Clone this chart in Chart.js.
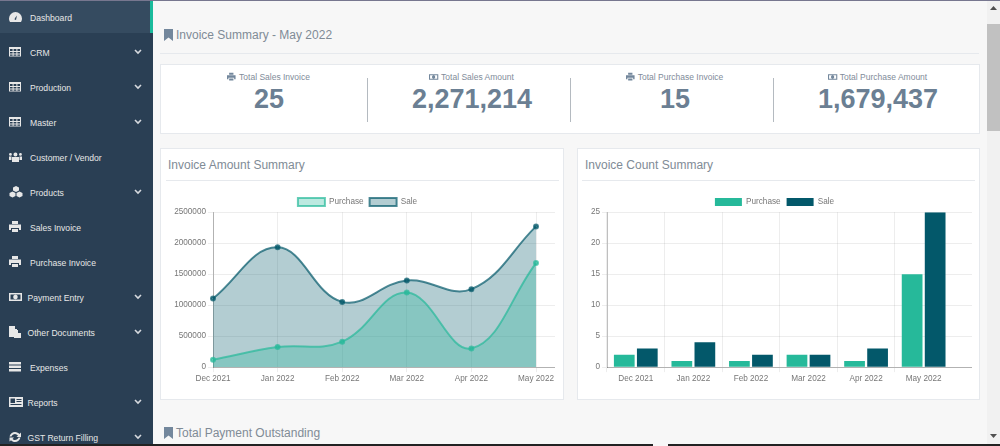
<!DOCTYPE html>
<html>
<head>
<meta charset="utf-8">
<title>Dashboard</title>
<script src="https://cdn.jsdelivr.net/npm/chart.js@4/dist/chart.umd.min.js"></script>
<style>
html, body { margin: 0; padding: 0; width: 1000px; height: 446px; overflow: hidden; background: #f7f7f7; font-family: "Liberation Sans", Arial, sans-serif; color: #808b96; }
div, span, svg, canvas { position: absolute; }
#side { left: 0; top: 0; width: 153px; height: 446px; background: #2a3f54; }
#active { left: 0; top: 0; width: 150px; height: 33px; background: #354b60; }
#strip { left: 150px; top: 0; width: 3px; height: 33px; background: #1abb9c; }
.mi { color: #e7e7e7; font-size: 8.6px; line-height: 12px; white-space: nowrap; }
.h { font-size: 12px; line-height: 14px; white-space: nowrap; }
.card { background: #fff; border: 1px solid #e6e9ed; box-sizing: border-box; }
.rule { background: #e6e9ed; height: 1px; }
.lab { font-size: 8.5px; line-height: 10px; text-align: center; width: 200px; white-space: nowrap; color: #7f8c9a; }
.num { font-size: 27px; line-height: 30px; font-weight: bold; text-align: center; width: 200px; color: #6b7f93; }
.div { width: 1px; top: 78px; height: 44px; background: #b4bac0; }
</style>
</head>
<body>
<div style="left:0;top:0;width:1000px;height:1px;background:#77778f;z-index:5"></div>
<div id="side"><div id="active"></div><div id="strip"></div></div>

<span class="h" style="left:176px;top:28px">Invoice Summary - May 2022</span>
<svg style="left:164px;top:29px" width="9" height="12" viewBox="0 0 9 12"><path d="M0 0H9V12L4.5 8.5 0 12Z" fill="#73879c"/></svg>
<div class="rule" style="left:160px;top:53px;width:819px"></div>

<div class="card" style="left:160px;top:64px;width:820px;height:70px"></div>
<div class="div" style="left:367px"></div>
<div class="div" style="left:570px"></div>
<div class="div" style="left:773px"></div>
<div id="stats"></div>

<div class="card" style="left:160px;top:148px;width:404px;height:252px"></div>
<span class="h" style="left:168px;top:158px">Invoice Amount Summary</span>
<div class="rule" style="left:166px;top:180px;width:393px"></div>
<canvas id="amount" style="left:160px;top:192px;width:395px;height:194px" width="395" height="194"></canvas>

<div class="card" style="left:577px;top:148px;width:403px;height:252px"></div>
<span class="h" style="left:585px;top:158px">Invoice Count Summary</span>
<div class="rule" style="left:582px;top:180px;width:393px"></div>
<canvas id="count" style="left:577px;top:192px;width:395px;height:194px" width="395" height="194"></canvas>

<span class="h" style="left:176px;top:426px">Total Payment Outstanding</span>
<svg style="left:164px;top:427px" width="9" height="12" viewBox="0 0 9 12"><path d="M0 0H9V12L4.5 8.5 0 12Z" fill="#73879c"/></svg>

<div style="left:987px;top:0;width:13px;height:446px;background:#f1f1f1"></div>
<div style="left:987px;top:24px;width:13px;height:107px;background:#c1c1c1"></div>
<svg style="left:990px;top:6px" width="7" height="4"><path d="M0 4L3.5 0 7 4Z" fill="#505050"/></svg>
<svg style="left:990px;top:434px" width="7" height="4"><path d="M0 0L3.5 4 7 0Z" fill="#505050"/></svg>
<div style="left:0;top:444px;width:653px;height:2px;background:#222"></div>
<div style="left:668px;top:444px;width:332px;height:2px;background:#222"></div>

<script>
const months = ['Dec 2021', 'Jan 2022', 'Feb 2022', 'Mar 2022', 'Apr 2022', 'May 2022'];
const purchaseAmount = [120000, 324000, 411000, 1204000, 303000, 1679437];
const saleAmount = [1107000, 1933000, 1053000, 1399000, 1258000, 2271214];
const purchaseCount = [2, 1, 1, 2, 1, 15];
const saleCount = [3, 4, 2, 2, 3, 25];

const statLabels = ['Total Sales Invoice', 'Total Sales Amount', 'Total Purchase Invoice', 'Total Purchase Amount'];
const statValues = ['25', '2,271,214', '15', '1,679,437'];
const statIcons = ['print', 'money', 'print', 'money'];
const statCenters = [269, 472, 675, 878];

const menuLabels = ['Dashboard', 'CRM', 'Production', 'Master', 'Customer / Vendor', 'Products', 'Sales Invoice', 'Purchase Invoice', 'Payment Entry', 'Other Documents', 'Expenses', 'Reports', 'GST Return Filling'];
const menuIcons = ['gauge', 'table', 'table', 'table', 'users', 'cubes', 'print', 'print', 'money', 'files', 'list', 'news', 'sync'];
const menuChevron = [0, 1, 1, 1, 0, 1, 0, 0, 1, 1, 0, 1, 1];
const menuLeft = [30, 30, 30, 30, 30, 30, 30, 30, 27.5, 27.5, 30, 27.5, 27.5];

// rough stand-ins for the font awesome glyphs
const glyphs = {
    print: '<path d="M3 0H9V3H3ZM0 3.5H12V9H10V7H2V9H0ZM3 8H9V11H3Z"/>',
    money: '<path fill-rule="evenodd" d="M0 2H13V10H0ZM1.5 3.5V8.5H11.5V3.5ZM6.5 3.7A2.3 2.3 0 1 1 6.4 8.3 2.3 2.3 0 1 1 6.5 3.7Z"/>',
    table: '<path fill-rule="evenodd" d="M0 1H12V10.5H0ZM1 3V5H3.6V3ZM4.6 3V5H7.4V3ZM8.4 3V5H11V3ZM1 6V7.6H3.6V6ZM4.6 6V7.6H7.4V6ZM8.4 6V7.6H11V6ZM1 8.4V9.7H3.6V8.4ZM4.6 8.4V9.7H7.4V8.4ZM8.4 8.4V9.7H11V8.4Z"/>',
    gauge: '<path fill-rule="evenodd" d="M6.5 1A6.5 6.5 0 0 1 13 7.5C13 9 12.5 10 12 11H1C.5 10 0 9 0 7.5A6.5 6.5 0 0 1 6.5 1ZM6 7L5.5 8.5 7 9 8 4.5Z"/>',
    users: '<path d="M6.5 1.5A2 2 0 1 1 6.4 5.5 2 2 0 1 1 6.5 1.5ZM3 6H10V11H3ZM1.5 2A1.4 1.4 0 1 1 1.4 4.8 1.4 1.4 0 1 1 1.5 2ZM11.5 2A1.4 1.4 0 1 1 11.4 4.8 1.4 1.4 0 1 1 11.5 2ZM0 5.5H2.5V9H0ZM10.5 5.5H13V9H10.5Z"/>',
    cubes: '<path d="M7 0L10 1.5V4.5L7 6 4 4.5V1.5ZM3.5 5.5L6.5 7V10L3.5 11.5 .5 10V7ZM10.5 5.5L13.5 7V10L10.5 11.5 7.5 10V7Z"/>',
    files: '<path d="M0 0H6V3H8V11H0ZM5 4H9V7H12V12H5Z"/>',
    list: '<path d="M0 1H12V3.5H0ZM0 4.5H12V7H0ZM0 8H12V10.5H0Z"/>',
    news: '<path fill-rule="evenodd" d="M0 1H14V11H0ZM1.5 2.5V7H6V2.5ZM7.5 3V4H12.5V3ZM7.5 5V6H12.5V5ZM1.5 8V9H12.5V8Z"/>',
    sync: '<path d="M6 1C8 1 9.5 2 10.5 3L12 1.5V6H7.5L9 4.5C8 3.5 7 3 6 3 4.5 3 3 4 2.5 5.5H.5C1 3 3.5 1 6 1ZM.5 6.5H5L3.5 8C4 8.5 5 9 6 9 7.5 9 9 8 9.5 6.5H11.5C11 9 8.5 11 6 11 4.5 11 3 10.2 2 9.2L.5 10.5Z"/>'
};

let icon = (name, x, y, size, colour) =>
    '<svg style="left:' + x + 'px;top:' + y + 'px" width="' + size + '" height="' + size + '" viewBox="0 0 14 12" fill="' + colour + '">' + glyphs[name] + '</svg>';

let side = document.getElementById('side');
menuLabels.forEach((label, i) => {
    let cy = 18 + i * 35;
    let html = icon(menuIcons[i], 9, cy - 8, 14, '#e7e7e7');
    html += '<span class="mi" style="left:' + menuLeft[i] + 'px;top:' + (cy - 6) + 'px">' + label + '</span>';
    if (menuChevron[i]) {
        html += '<svg style="left:134px;top:' + (cy - 4) + 'px" width="8" height="6"><path d="M1 1L4 4 7 1" fill="none" stroke="#d5d9de" stroke-width="1.6"/></svg>';
    }
    side.insertAdjacentHTML('beforeend', html);
});

let stats = document.getElementById('stats');
let ctx = document.createElement('canvas').getContext('2d');
ctx.font = '8.5px "Liberation Sans"';
statLabels.forEach((label, i) => {
    let left = statCenters[i] - 100;
    let w = ctx.measureText(label).width + 11;
    stats.insertAdjacentHTML('beforeend',
        '<div class="lab" style="left:' + left + 'px;top:72px"><span style="position:static;display:inline-block;width:11px"></span>' + label + '</div>' +
        '<div class="num" style="left:' + left + 'px;top:84px">' + statValues[i] + '</div>' +
        icon(statIcons[i], statCenters[i] - w / 2 - 1, 72, 10, '#73879c'));
});

Chart.defaults.font.family = '"Liberation Sans", Arial, sans-serif';
Chart.defaults.font.size = 8.2;
Chart.defaults.color = '#777';
Chart.defaults.animation = false;

// the axes in the original run on past the last month
let stretch = range => scale => { scale._valueRange = range; };

let legend = {
    position: 'top',
    labels: { boxWidth: 27, boxHeight: 8, padding: 6 }
};

// legend sits tighter on the plot than chart.js leaves it
let tightLegend = {
    id: 'tightLegend',
    beforeLayout: chart => {
        if (chart.legend.tight) return;
        let fit = chart.legend.fit;
        chart.legend.fit = function () {
            fit.call(this);
            this.height -= 4;
        };
        chart.legend.tight = true;
    }
};

let gridColour = c => c.index === undefined ? 'transparent' : 'rgba(0,0,0,0.07)';

let axisX = range => ({
    afterUpdate: stretch(range),
    afterFit: scale => {
        scale.paddingLeft = 0;
        scale.paddingRight = 0;
    },
    grid: { color: gridColour, tickLength: 5 },
    border: { color: 'rgba(0,0,0,0.25)' },
    ticks: { padding: 2, maxRotation: 0, autoSkip: false }
});

let axisY = (max, step, width) => ({
    min: 0,
    max: max,
    afterFit: scale => { scale.width = width; },
    grid: { color: 'rgba(0,0,0,0.07)', tickLength: 5 },
    border: { color: 'rgba(0,0,0,0.25)' },
    ticks: { padding: 2, stepSize: step, callback: v => String(v) }
});

let amount = new Chart('amount', {
    type: 'line',
    plugins: [tightLegend],
    data: {
        labels: months,
        datasets: [{
            label: 'Purchase',
            data: purchaseAmount,
            backgroundColor: 'rgba(38, 185, 154, 0.31)',
            borderColor: 'rgba(38, 185, 154, 0.7)',
            pointBackgroundColor: 'rgba(38, 185, 154, 0.7)',
            pointBorderColor: 'rgba(38, 185, 154, 0.7)',
            pointRadius: 2,
            borderWidth: 2,
            tension: 0.4,
            fill: 'origin'
        }, {
            label: 'Sale',
            data: saleAmount,
            backgroundColor: 'rgba(3, 88, 106, 0.3)',
            borderColor: 'rgba(3, 88, 106, 0.7)',
            pointBackgroundColor: 'rgba(3, 88, 106, 0.7)',
            pointBorderColor: 'rgba(3, 88, 106, 0.7)',
            pointRadius: 2,
            borderWidth: 2,
            tension: 0.4,
            fill: 'origin'
        }]
    },
    options: {
        responsive: false,
        layout: { autoPadding: false },
        plugins: { legend: legend, tooltip: { enabled: false } },
        scales: { x: axisX(5.294), y: axisY(2500000, 500000, 53) }
    }
});

let count = new Chart('count', {
    type: 'bar',
    plugins: [tightLegend],
    data: {
        labels: months,
        datasets: [{
            label: 'Purchase',
            data: purchaseCount,
            backgroundColor: '#26B99A'
        }, {
            label: 'Sale',
            data: saleCount,
            backgroundColor: '#03586A'
        }]
    },
    options: {
        responsive: false,
        layout: { autoPadding: false },
        plugins: { legend: legend, tooltip: { enabled: false } },
        scales: { x: axisX(6.34), y: axisY(25, 5, 30) }
    }
});
</script>
</body>
</html>
